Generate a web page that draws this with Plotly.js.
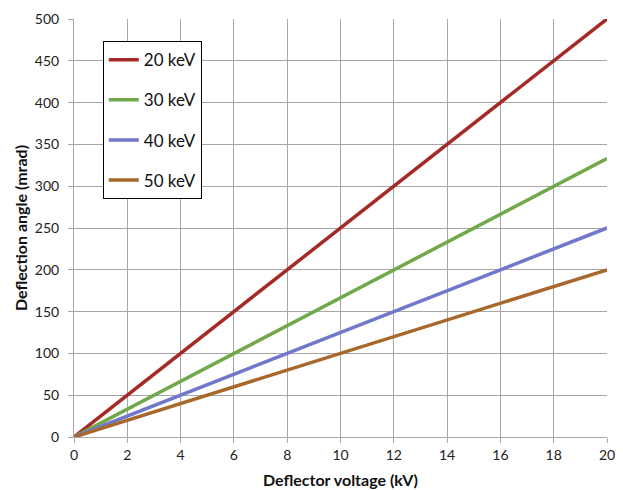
<!DOCTYPE html>
<html>
<head>
<meta charset="utf-8">
<script src="https://cdn.plot.ly/plotly-3.0.1.min.js"></script>
<style>html,body{margin:0;padding:0;background:#fff;}#chart{width:623px;height:490px;}</style>
</head>
<body>
<div id="chart"></div>
<script>
const voltage = [0, 20];
const seriesNames = ["20 keV", "30 keV", "40 keV", "50 keV"];
const angle20 = [0, 500];
const angle30 = [0, 333];
const angle40 = [0, 250];
const angle50 = [0, 200];
const colors = ["#A52A26", "#71A84A", "#7178CC", "#A8682B"];
const xTicks = [0, 2, 4, 6, 8, 10, 12, 14, 16, 18, 20];
const yTicks = [0, 50, 100, 150, 200, 250, 300, 350, 400, 450, 500];

const ys = [angle20, angle30, angle40, angle50];
const traces = ys.map((y, i) => ({
  x: voltage, y: y, type: "scatter", mode: "lines",
  name: seriesNames[i], legendgroup: "g" + i,
  line: {color: colors[i], width: 3.5},
  hoverinfo: "skip"
}));

const fontFam = "Lato, 'Open Sans', sans-serif";
const layout = {
  width: 623, height: 490,
  margin: {l: 74, r: 16, t: 19, b: 53},
  paper_bgcolor: "#fff", plot_bgcolor: "#fff",
  font: {family: fontFam, size: 14, color: "#222"},
  showlegend: true,
  legend: {
    x: 0.054, y: 0.947, xanchor: "left", yanchor: "top",
    bordercolor: "#000", borderwidth: 1, bgcolor: "#fff",
    font: {family: fontFam, size: 17, color: "#111"},
    tracegroupgap: 15, itemwidth: 30
  },
  xaxis: {
    range: [0, 20], tickvals: xTicks, ticktext: xTicks.map(String),
    showgrid: true, gridcolor: "#a6a6a6", gridwidth: 1,
    showline: true, linecolor: "#a6a6a6", linewidth: 1,
    ticks: "outside", ticklen: 5, tickcolor: "#a6a6a6",
    zeroline: false, fixedrange: true,
    tickfont: {size: 14, color: "#222"},
    title: {text: "Deflector voltage (kV)", font: {size: 16, color: "#111", weight: "bold"}, standoff: 13}
  },
  yaxis: {
    range: [0, 500], tickvals: yTicks, ticktext: yTicks.map(String),
    showgrid: true, gridcolor: "#a6a6a6", gridwidth: 1,
    showline: true, linecolor: "#a6a6a6", linewidth: 1,
    ticks: "outside", ticklen: 5, tickcolor: "#a6a6a6",
    ticklabelstandoff: 6,
    zeroline: false, fixedrange: true,
    tickfont: {size: 14, color: "#222"},
    title: {text: "Deflection angle (mrad)", font: {size: 16, color: "#111", weight: "bold"}, standoff: 3}
  }
};
Plotly.newPlot("chart", traces, layout, {staticPlot: true, displayModeBar: false});
</script>
</body>
</html>
